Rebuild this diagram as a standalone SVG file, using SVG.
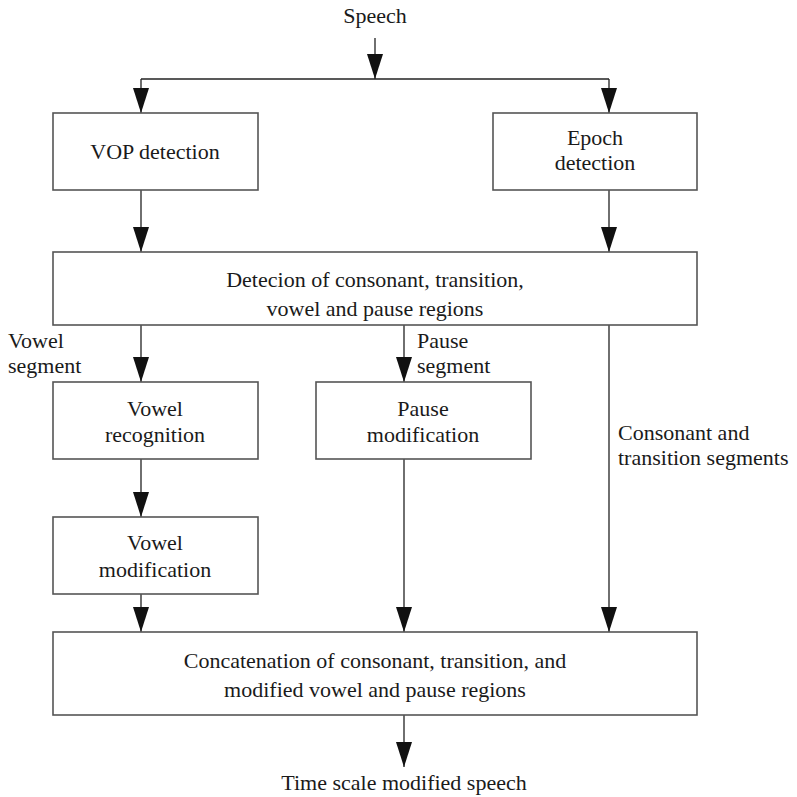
<svg xmlns="http://www.w3.org/2000/svg" width="797" height="797" viewBox="0 0 797 797">
<defs>
<marker id="ah" markerUnits="userSpaceOnUse" markerWidth="26" markerHeight="18" refX="25" refY="8" orient="auto">
<path d="M0,0 L25,8 L0,16 z" fill="#111"/>
</marker>
<style>
.box{fill:#fff;stroke:#555;stroke-width:1.6}
.ln{fill:none;stroke:#222;stroke-width:1.3}
.arr{fill:none;stroke:#222;stroke-width:1.3;marker-end:url(#ah)}
.t{font-family:'Liberation Serif','Times New Roman',Tinos,'DejaVu Serif',serif;font-size:22px;fill:#1a1a1a}
.c{text-anchor:middle}
</style>
</defs>
<rect width="797" height="797" fill="#fff"/>
<g id="connectors">
<line class="arr" x1="375" y1="38" x2="375" y2="79"/>
<line class="ln" x1="141" y1="79" x2="609" y2="79"/>
<line class="arr" x1="141" y1="79" x2="141" y2="113"/>
<line class="arr" x1="609" y1="79" x2="609" y2="113"/>
<line class="arr" x1="141" y1="190" x2="141" y2="252"/>
<line class="arr" x1="609" y1="190" x2="609" y2="252"/>
<line class="arr" x1="141" y1="325" x2="141" y2="382"/>
<line class="arr" x1="404" y1="325" x2="404" y2="382"/>
<line class="arr" x1="609" y1="325" x2="609" y2="632"/>
<line class="arr" x1="141" y1="459" x2="141" y2="517"/>
<line class="arr" x1="141" y1="594" x2="141" y2="632"/>
<line class="arr" x1="404" y1="459" x2="404" y2="632"/>
<line class="arr" x1="404" y1="715" x2="404" y2="767"/>
</g>
<g id="labels">
<text class="t c" x="375" y="23">Speech</text>
<text class="t" x="8" y="348">Vowel</text>
<text class="t" x="8" y="373">segment</text>
<text class="t" x="417" y="348">Pause</text>
<text class="t" x="417" y="373">segment</text>
<text class="t" x="618" y="440">Consonant and</text>
<text class="t" x="618" y="465">transition segments</text>
<text class="t c" x="404" y="790">Time scale modified speech</text>
</g>
<g id="vop">
<rect class="box" x="53" y="113" width="205" height="77"/>
<text class="t c" x="155" y="159">VOP detection</text>
</g>
<g id="epoch">
<rect class="box" x="493" y="113" width="204" height="77"/>
<text class="t c" x="595" y="145">Epoch</text>
<text class="t c" x="595" y="170">detection</text>
</g>
<g id="detection">
<rect class="box" x="53" y="252" width="644" height="73"/>
<text class="t c" x="375" y="287">Detecion of consonant, transition,</text>
<text class="t c" x="375" y="316">vowel and pause regions</text>
</g>
<g id="vowel-recognition">
<rect class="box" x="53" y="382" width="205" height="77"/>
<text class="t c" x="155" y="416">Vowel</text>
<text class="t c" x="155" y="442">recognition</text>
</g>
<g id="pause-modification">
<rect class="box" x="316" y="382" width="215" height="77"/>
<text class="t c" x="423" y="416">Pause</text>
<text class="t c" x="423" y="442">modification</text>
</g>
<g id="vowel-modification">
<rect class="box" x="53" y="517" width="205" height="77"/>
<text class="t c" x="155" y="550">Vowel</text>
<text class="t c" x="155" y="577">modification</text>
</g>
<g id="concatenation">
<rect class="box" x="53" y="632" width="644" height="83"/>
<text class="t c" x="375" y="668">Concatenation of consonant, transition, and</text>
<text class="t c" x="375" y="697">modified vowel and pause regions</text>
</g>
</svg>
